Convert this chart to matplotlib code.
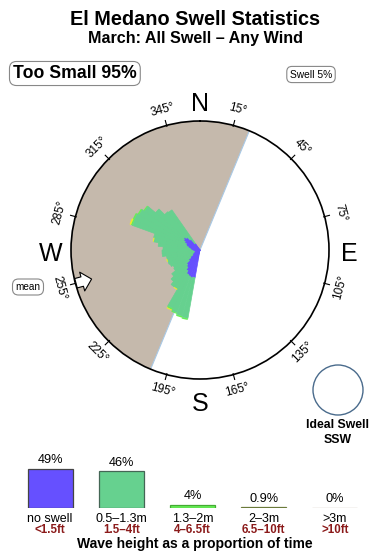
import numpy as np
import matplotlib
matplotlib.use('Agg')
import matplotlib.pyplot as plt
import matplotlib.transforms as mtrans
from matplotlib.patches import Ellipse

plt.rcParams['font.family'] = ['Liberation Sans', 'DejaVu Sans']

# rose data: direction bins (deg) and stacked lengths per wave height class
dirs = [192.5, 197.5, 202.5, 207.5, 212.5, 217.5, 222.5, 227.5, 232.5, 237.5,
        242.5, 247.5, 252.5, 257.5, 262.5, 267.5, 272.5, 277.5, 282.5, 287.5,
        292.5, 297.5, 302.5, 307.5, 312.5, 317.5, 322.5]
blue = [28, 29, 28, 27, 24, 21, 19, 15, 12, 9, 8, 7, 6, 6, 7, 8, 9, 10, 12, 14,
        15, 17, 19, 20, 18, 14, 8]
green = [41.5, 39.5, 39, 37.5, 21, 24, 22, 22, 20, 22, 25, 27, 28, 28, 31, 30,
         28, 32, 35, 34, 57, 55.5, 51.5, 48, 40, 36, 41]
lgreen = [1.5, 1.5, 1, 1.5, 0, 0, 0, 0, 0, 0, 0, 0, 0, 0, 0, 0, 0, 0, 0, 0,
          1.5, 1.5, 1.5, 1, 0, 0, 0]
yellow = [0, 0, 0, 1, 1, 0, 0, 0, 0, 0, 0, 0, 1, 0, 0, 0, 0, 0, 1, 0, 1.5, 0,
          0, 0, 0, 0, 0]
r_max = 129
shadow_from, shadow_to = 202.5, 382.5   # sheltered sector
mean_dir = 255

tick_dirs = [15, 45, 75, 105, 135, 165, 195, 225, 255, 285, 315, 345]

# legend data
classes = ['no swell', '0.5\u20131.3m', '1.3\u20132m', '2\u20133m', '>3m']
classes_ft = ['<1.5ft', '1.5\u20134ft', '4\u20136.5ft', '6.5\u201310ft', '>10ft']
pct = [49, 46, 4, 0.9, 0]
pct_lbl = ['49%', '46%', '4%', '0.9%', '0%']
colors = ['#6650ff', '#66d18f', '#66ee55', '#e0e030', '#c4b8ab']
edges = ['#444444', '#446655', '#44aa33', '#6b7a3a', '#b0a294']

W, H = 390, 560
fig = plt.figure(figsize=(3.9, 5.6), dpi=100)

def fx(x):
    return x / W

def fy(y):
    return 1 - y / H

# ---- rose ----
cx, cy = 200, 250
ax = fig.add_axes([fx(cx - r_max), fy(cy + r_max), 2 * r_max / W, 2 * r_max / H], polar=True)
ax.set_theta_zero_location('N')
ax.set_theta_direction(-1)
ax.set_ylim(0, r_max)
ax.grid(False)
ax.set_xticks([])
ax.set_yticks([])
ax.spines['polar'].set_linewidth(1.2)

mid = np.radians((shadow_from + shadow_to) / 2)
ax.bar(mid, r_max, width=np.radians(shadow_to - shadow_from), bottom=0,
       color='#c5b9ac', lw=0, zorder=1)
for d in (shadow_from, shadow_to):
    ax.plot([np.radians(d)] * 2, [0, r_max], color='#a9c9e6', lw=0.8, zorder=2)

th = np.radians(dirs)
wd = np.radians(5)
base = np.zeros(len(dirs))
for vals, c, lw in [(blue, '#6650ff', 0.5), (green, '#66d18f', 0.5),
                    (lgreen, '#66ee55', 0), (yellow, '#f0ee22', 0)]:
    v = np.array(vals, dtype=float)
    ax.bar(th, v, width=wd, bottom=base, color=c, edgecolor=c, lw=lw, zorder=3)
    base = base + v

for d in tick_dirs:
    t = np.radians(d)
    ax.plot([t, t], [r_max - 1, r_max + 5], color='black', lw=0.8, clip_on=False, zorder=4)
    rot = -d if np.cos(t) > 0 else 180 - d
    rot = (rot + 180) % 360 - 180
    ax.text(t, r_max * 1.125, '%d\u00b0' % d, rotation=rot, ha='center', va='center',
            fontsize=8.5, rotation_mode='anchor')

down = mtrans.offset_copy(ax.transData, fig=fig, y=-4, units='dots')
for lab, d in [('N', 0), ('E', 90), ('S', 180), ('W', 270)]:
    ax.text(np.radians(d), r_max * 1.16, lab, ha='center', va='center', fontsize=18,
            transform=down)

ax.annotate('', xy=(np.radians(mean_dir), r_max * 0.87), xytext=(np.radians(mean_dir), r_max * 0.995),
            arrowprops=dict(arrowstyle='simple,head_length=0.5,head_width=1.0,tail_width=0.5',
                            fc='white', ec='black', lw=0.8, mutation_scale=14,
                            shrinkA=0, shrinkB=0), zorder=5)

# ---- header ----
fig.text(0.5, fy(25), 'El Medano Swell Statistics', ha='center', va='baseline',
         fontsize=14.3, weight='bold')
fig.text(0.5, fy(43), 'March: All Swell \u2013 Any Wind', ha='center', va='baseline',
         fontsize=11.6, weight='bold')
fig.text(fx(13), fy(78), 'Too Small 95%', ha='left', va='baseline', fontsize=12.7, weight='bold',
         bbox=dict(boxstyle='round,pad=0.2,rounding_size=0.4', fc='white', ec='#888888', lw=0.8))
fig.text(fx(311), fy(77.5), 'Swell 5%', ha='center', va='baseline', fontsize=7.4,
         bbox=dict(boxstyle='round,pad=0.3,rounding_size=0.5', fc='white', ec='#888888', lw=0.8))
fig.text(fx(28), fy(287), 'mean', ha='center', va='center', fontsize=7.2,
         bbox=dict(boxstyle='round,pad=0.3,rounding_size=0.6', fc='white', ec='#888888', lw=0.8))

# ideal swell
fig.add_artist(Ellipse((fx(338), fy(390)), 50 / W, 50 / H, transform=fig.transFigure,
                       fc='none', ec='#4a6b8c', lw=1))
fig.text(fx(338), fy(428), 'Ideal Swell', ha='center', va='baseline', fontsize=8.8, weight='bold')
fig.text(fx(338), fy(443), 'SSW', ha='center', va='baseline', fontsize=8.8, weight='bold')

# ---- legend bars ----
lx = fig.add_axes([fx(14.4), fy(508), 356.2 / W, 68 / H])
lx.set_xlim(-0.5, 4.5)
lx.set_ylim(0, 85.4)
lx.axis('off')
x = np.arange(len(pct))
lx.bar(x, pct, width=0.632, color=colors, edgecolor=edges, lw=0.9)
for i in range(len(pct)):
    lx.text(x[i], pct[i] + 7, pct_lbl[i], ha='center', va='baseline', fontsize=9.2)
    lx.text(x[i], -17.5, classes[i], ha='center', va='baseline', fontsize=9, clip_on=False)
    lx.text(x[i], -31, classes_ft[i], ha='center', va='baseline', fontsize=8.3,
            weight='bold', color='#8b1a1a', clip_on=False)
fig.text(0.5, fy(548), 'Wave height as a proportion of time', ha='center', va='baseline',
         fontsize=10, weight='bold')

fig.savefig('out.png', dpi=100)
